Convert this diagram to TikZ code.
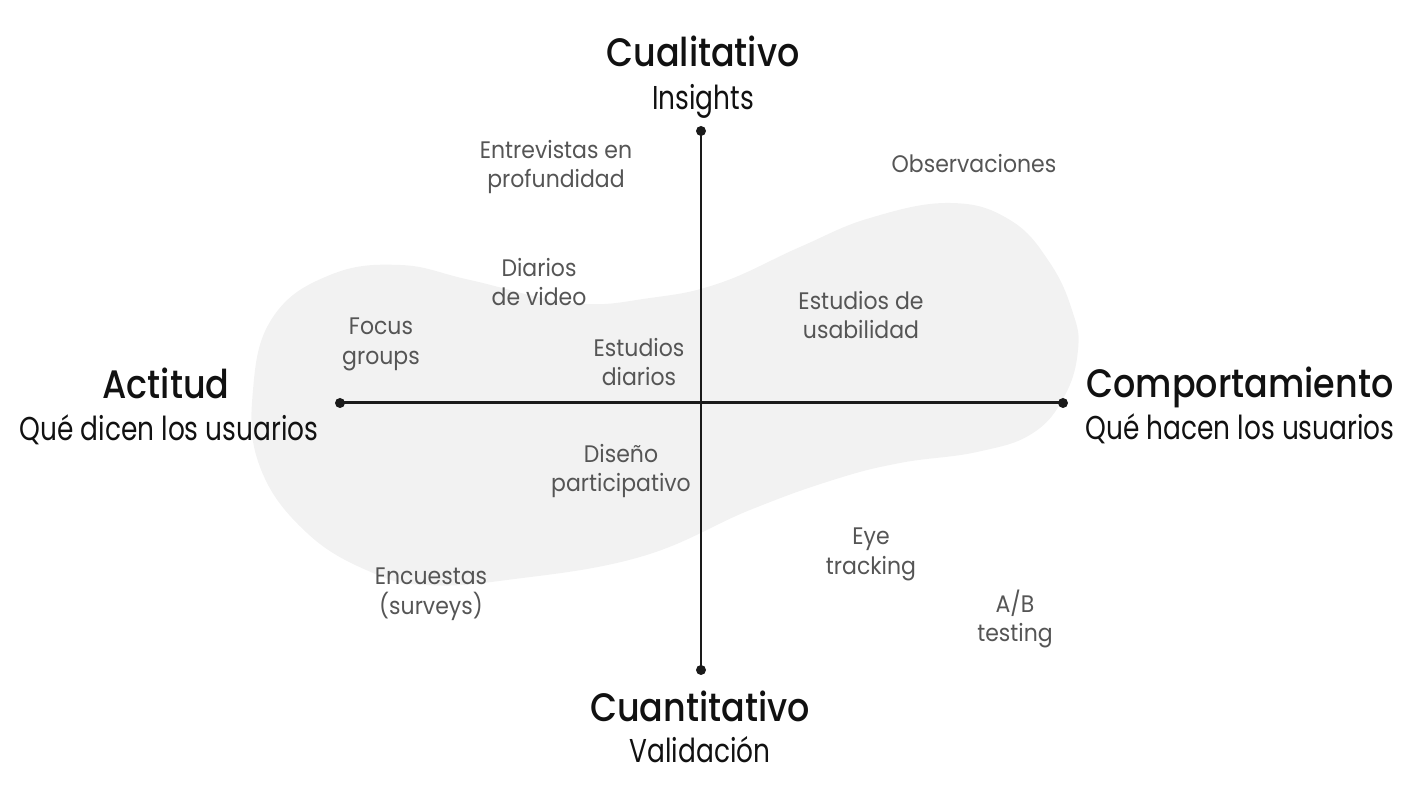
\documentclass[tikz,border=0pt]{standalone}
\usepackage{fontspec}
\setmainfont{Poppins}
\newfontfamily\headfont{Poppins Medium}[FakeStretch=0.88]
\newfontfamily\subfont{Poppins}[FakeStretch=0.80]
\newfontfamily\methfont{Poppins}[FakeStretch=0.92]
\usetikzlibrary{positioning,calc}
\definecolor{ink}{HTML}{111111}
\definecolor{ink3}{HTML}{555555}
\definecolor{axisc}{HTML}{1A1A1A}
\definecolor{blobc}{HTML}{F2F2F2}
\tikzset{
  head/.style={font=\headfont\fontsize{11.3}{13}\selectfont, text=ink, anchor=base, inner sep=0pt},
  sub/.style={font=\subfont\fontsize{9.4}{11}\selectfont, text=ink, anchor=base, inner sep=0pt},
  meth/.style={font=\methfont\fontsize{6.8}{8.5}\selectfont, text=ink3, align=center, inner sep=0pt},
  dot/.style={circle, fill=axisc, minimum size=1mm, inner sep=0pt},
  axis/.style={draw=axisc, line width=0.85pt},
  blob/.style={fill=blobc, draw=none},
}
\begin{document}
\begin{tikzpicture}
\useasboundingbox (0,0) rectangle (14.22,8);
% ---- background blob ----
\fill[blob] plot[smooth cycle, tension=0.7] coordinates {
  (2.53,4.10) (2.73,4.83) (3.30,5.25) (4.00,5.35) (4.70,5.20) (5.73,4.97)
  (6.50,5.02) (7.20,5.17) (8.00,5.53) (8.70,5.82) (9.50,5.97) (10.10,5.80)
  (10.50,5.37) (10.73,4.87) (10.78,4.50) (10.65,4.05) (10.33,3.67) (9.77,3.48)
  (9.00,3.37) (8.33,3.20) (7.50,2.90) (6.40,2.43) (5.07,2.20) (4.27,2.15)
  (3.73,2.27) (3.07,2.67) (2.60,3.33)};
% ---- axes ----
\node[dot] (top)   at (7.01,6.69) {};
\node[dot] (bot)   at (7.01,1.30) {};
\node[dot] (left)  at (3.40,3.97) {};
\node[dot] (right) at (10.63,3.97) {};
\draw[axis] (top.center) -- (bot.center);
\draw[axis] (left.center) -- (right.center);
% ---- axis titles ----
\node[head] (qual)  at (7.03,7.33) {Cualitativo};
\node[sub]  (qualS) at (7.03,6.90) {Insights};
\node[head] (quan)  at (7.00,0.78) {Cuantitativo};
\node[sub]  (quanS) at (7.00,0.37) {Validación};
\node[head] (att)   at (1.66,4.01) {Actitud};
\node[sub]  (attS)  at (1.69,3.59) {Qué dicen los usuarios};
\node[head] (beh)   at (12.40,4.02) {Comportamiento};
\node[sub]  (behS)  at (12.40,3.60) {Qué hacen los usuarios};
% ---- methods ----
\node[meth] (entr) at (5.56,6.33) {Entrevistas en\\profundidad};
\node[meth] (obs)  at (9.74,6.36) {Observaciones};
\node[meth] (dvid) at (5.39,5.18) {Diarios\\de video};
\node[meth] (foc)  at (3.81,4.56) {Focus\\groups};
\node[meth] (edia) at (6.39,4.38) {Estudios\\diarios};
\node[meth] (usab) at (8.61,4.85) {Estudios de\\usabilidad};
\node[meth] (part) at (6.21,3.29) {Diseño\\participativo};
\node[meth] (eye)  at (8.71,2.46) {Eye\\tracking};
\node[meth] (enc)  at (4.31,2.06) {Encuestas\\(surveys)};
\node[meth] (ab)   at (10.15,1.81) {A/B\\testing};
\end{tikzpicture}
\end{document}
